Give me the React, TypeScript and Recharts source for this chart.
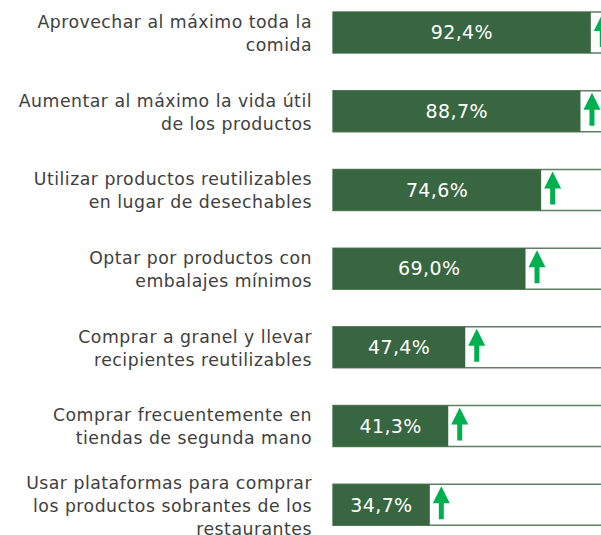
import { BarChart, Bar, XAxis, YAxis, LabelList } from 'recharts';

const categories = [
  'Aprovechar al máximo toda la|comida',
  'Aumentar al máximo la vida útil|de los productos',
  'Utilizar productos reutilizables|en lugar de desechables',
  'Optar por productos con|embalajes mínimos',
  'Comprar a granel y llevar|recipientes reutilizables',
  'Comprar frecuentemente en|tiendas de segunda mano',
  'Usar plataformas para comprar|los productos sobrantes de los|restaurantes',
];
const values = [92.4, 88.7, 74.6, 69.0, 47.4, 41.3, 34.7];

const data = categories.map((name, i) => ({ name, value: values[i] }));

const GREEN = '#386641';
const ARROW = '#00b050';
const FONT = '"DejaVu Sans", sans-serif';

function CategoryTick(props: any) {
  const { x, y, payload } = props;
  const lines: string[] = String(payload.value).split('|');
  const lh = 23;
  const start = y + 1 - ((lines.length - 1) * lh) / 2;
  return (
    <text
      x={x - 13}
      y={start}
      textAnchor="end"
      fill="#404040"
      fontSize={17.3}
      letterSpacing={0.5}
      fontFamily={FONT}
    >
      {lines.map((l, i) => (
        <tspan key={i} x={x - 13} y={start + i * lh} dy="0.35em">
          {l}
        </tspan>
      ))}
    </text>
  );
}

function BarWithArrow(props: any) {
  const { x, y, width, height } = props;
  const ax = x + width + 3;
  const top = y + 2;
  const headBottom = y + 19;
  const bottom = y + height - 6;
  const hw = 8.5;
  const sw = 2.5;
  const cx = ax + hw;
  return (
    <g>
      <rect x={x} y={y} width={width} height={height} fill={GREEN} />
      <path
        d={`M${cx},${top} L${cx + hw},${headBottom} L${cx + sw},${headBottom} L${cx + sw},${bottom} L${cx - sw},${bottom} L${cx - sw},${headBottom} L${cx - hw},${headBottom} Z`}
        fill={ARROW}
      />
    </g>
  );
}

export default function App() {
  return (
    <div style={{ position: 'absolute', left: 0, top: 0, width: 601, height: 535, overflow: 'hidden', background: '#fff' }}>
      <div style={{ position: 'absolute', left: 0, top: -7 }}>
        <BarChart
          width={620}
          height={560}
          data={data}
          layout="vertical"
          margin={{ top: 0, right: 8, bottom: 9, left: 0 }}
        >
          <XAxis type="number" domain={[0, 100]} hide />
          <YAxis
            type="category"
            dataKey="name"
            width={333}
            axisLine={false}
            tickLine={false}
            tick={<CategoryTick />}
            interval={0}
          />
          <Bar
            dataKey="value"
            barSize={41}
            isAnimationActive={false}
            background={{ fill: '#ffffff', stroke: '#5d7f63', strokeWidth: 1.5 }}
            shape={<BarWithArrow />}
          >
            <LabelList
              dataKey="value"
              position="center"
              formatter={(v: any) => `${Number(v).toFixed(1).replace('.', ',')}%`}
              fill="#ffffff"
              fontSize={19}
              letterSpacing={0.4}
              fontFamily={FONT}
            />
          </Bar>
        </BarChart>
      </div>
    </div>
  );
}
